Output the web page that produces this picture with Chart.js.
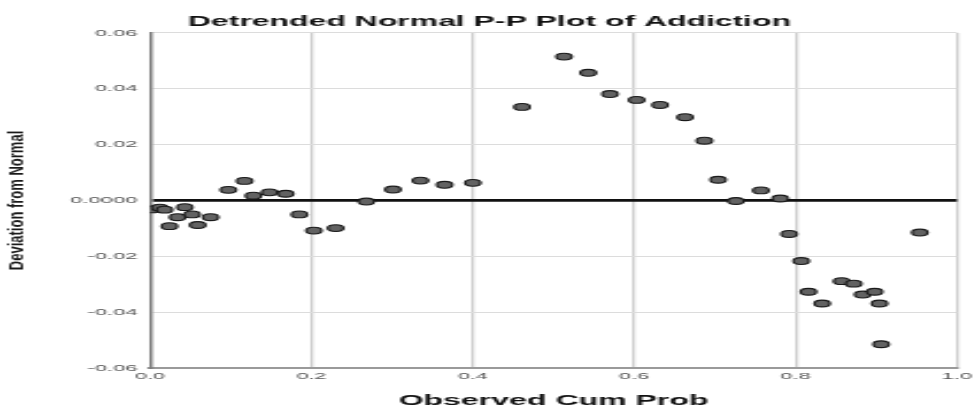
<!DOCTYPE html>
<html>
<head>
<meta charset="utf-8">
<script src="https://cdn.jsdelivr.net/npm/chart.js@4.4.1/dist/chart.umd.min.js"></script>
<style>
  html, body { margin: 0; padding: 0; background: #fff; overflow: hidden; }
  #ppChart { display: block; }
</style>
</head>
<body>
<!-- drawn narrow and stretched sideways, like the source image -->
<canvas id="ppChart" width="426" height="410" style="width:979px;height:410px"></canvas>
<script>
const observedCumProb = [
    0.0025, 0.012, 0.018, 0.024, 0.034, 0.043, 0.052, 0.059, 0.075,
    0.097, 0.117, 0.128, 0.148, 0.168, 0.185, 0.203, 0.230,
    0.268, 0.301, 0.335, 0.365, 0.400,
    0.461, 0.513, 0.543, 0.570, 0.603, 0.632, 0.663, 0.687, 0.704,
    0.726, 0.757, 0.781, 0.792, 0.807, 0.816, 0.833, 0.857, 0.872,
    0.883, 0.898, 0.904, 0.906, 0.954
];
const deviation = [
    -0.0032, -0.0026, -0.0033, -0.0092, -0.0060, -0.0024, -0.0050, -0.0088, -0.0060,
    0.0038, 0.0070, 0.0017, 0.0029, 0.0024, -0.0050, -0.0108, -0.0099,
    -0.0004, 0.0039, 0.0071, 0.0056, 0.0063,
    0.0335, 0.0515, 0.0457, 0.0381, 0.0360, 0.0342, 0.0298, 0.0214, 0.0074,
    -0.0002, 0.0036, 0.0007, -0.0120, -0.0217, -0.0327, -0.0369, -0.0289, -0.0298,
    -0.0337, -0.0327, -0.0369, -0.0515, -0.0115
];
const xTickLabels = ['0.0', '0.2', '0.4', '0.6', '0.8', '1.0'];
const yTickLabels = ['-0.06', '-0.04', '-0.02', '0.0000', '0.02', '0.04', '0.06'];

const STRETCH = 979 / 426;
const FONT = "'Liberation Sans', Arial, sans-serif";

const isZero = v => Math.abs(v) < 1e-9;

const ctx = document.getElementById('ppChart').getContext('2d');
const chart = new Chart(ctx, {
    type: 'scatter',
    data: {
        datasets: [{
            label: 'Addiction',
            data: observedCumProb.map((x, i) => ({ x: x, y: deviation[i] })),
            pointRadius: 3.4,
            pointHoverRadius: 3.4,
            backgroundColor: '#626262',
            borderColor: '#1a1a1a',
            borderWidth: 1.1
        }]
    },
    options: {
        responsive: false,
        animation: false,
        devicePixelRatio: 1,
        layout: { padding: 0 },
        plugins: {
            legend: { display: false },
            tooltip: { enabled: false },
            title: {
                display: true,
                text: 'Detrended Normal P-P Plot of Addiction',
                color: '#111',
                font: { family: FONT, size: 13.9, weight: 'bold' },
                padding: { top: 13.5, bottom: 2.7 }
            }
        },
        scales: {
            x: {
                type: 'linear',
                min: 0,
                max: 1,
                afterFit: s => { s.height = 42; },
                ticks: {
                    stepSize: 0.2,
                    autoSkip: false,
                    maxRotation: 0,
                    padding: 3,
                    color: '#555',
                    font: { family: FONT, size: 9.5 },
                    callback: (v, i) => xTickLabels[i]
                },
                grid: {
                    drawTicks: false,
                    color: c => c.index === 0 ? 'rgba(0,0,0,0)' : '#cfcfcf',
                    lineWidth: 1.3
                },
                border: { color: '#9a9a9a', width: 2 },
                title: {
                    display: true,
                    text: 'Observed Cum Prob',
                    color: '#111',
                    font: { family: FONT, size: 13.95, weight: 'bold' },
                    padding: { top: 0, bottom: 0.6 }
                }
            },
            y: {
                min: -0.06,
                max: 0.06,
                afterFit: s => { s.width = 65.3; },
                ticks: {
                    stepSize: 0.02,
                    padding: 5.5,
                    color: '#555',
                    font: { family: FONT, size: 9.6 },
                    callback: (v, i) => yTickLabels[i]
                },
                grid: {
                    drawTicks: false,
                    color: c => isZero(c.tick.value) ? '#111' : (c.index === 0 ? 'rgba(0,0,0,0)' : '#dcdcdc'),
                    lineWidth: c => isZero(c.tick.value) ? 2.8 : 1
                },
                border: { color: '#7a7a7a', width: 1.4 },
                title: {
                    display: true,
                    text: 'Deviation from Normal',
                    color: '#1a1a1a',
                    font: { family: FONT, size: 13, weight: 'bold' },
                    padding: { top: 0, bottom: 0 }
                }
            }
        }
    }
});

// the y title is barely stretched in the source, so mostly undo the stretch for it
const yScale = chart.scales.y;
const baseDrawTitle = yScale.drawTitle.bind(yScale);
yScale.drawTitle = function () {
    const c = this.ctx;
    const cx = this.left + 8.2;
    c.save();
    c.translate(cx, 0);
    c.scale(1.45 / STRETCH, 1);
    c.translate(-cx, 0);
    baseDrawTitle();
    c.restore();
};
chart.draw();
</script>
</body>
</html>
